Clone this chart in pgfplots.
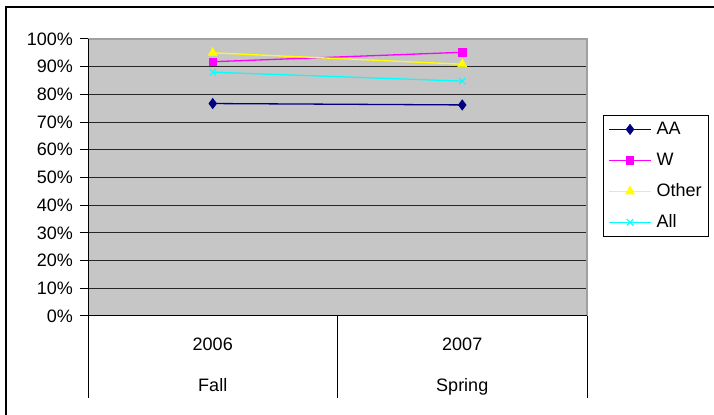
\documentclass[border=0pt]{standalone}
\usepackage{pgfplots}
\pgfplotsset{compat=1.18}
\usepackage{fontspec}
\setmainfont{Liberation Sans}
\definecolor{plotgray}{HTML}{C6C6C6}
\definecolor{bordergray}{HTML}{A0A0A0}
\definecolor{aa}{HTML}{000080}
\definecolor{ww}{HTML}{FF00FF}
\definecolor{oth}{HTML}{FFFF00}
\definecolor{allc}{HTML}{00FFFF}
\begin{document}
\fontsize{18bp}{21bp}\selectfont
\begin{tikzpicture}
\useasboundingbox (0bp,0bp) rectangle (714bp,415bp);
\draw[line width=1.5bp] (6bp,-5bp) -- (6bp,408bp) -- (720bp,408bp);
\begin{axis}[
  at={(88bp,99bp)}, anchor=south west,
  scale only axis, width=499bp, height=277bp,
  xmin=0, xmax=2, ymin=0, ymax=1,
  clip=false,
  font=\fontsize{18bp}{21bp}\selectfont,
  xtick={0.5,1.5},
  xticklabels={{2006\\[20bp]Fall},{2007\\[20bp]Spring}},
  x tick label style={align=center, yshift=-8bp},
  ytick={0,0.1,0.2,0.3,0.4,0.5,0.6,0.7,0.8,0.9,1},
  yticklabels={0\%,10\%,20\%,30\%,40\%,50\%,60\%,70\%,80\%,90\%,100\%},
  y tick label style={xshift=-1bp},
  tick pos=left, tick align=outside, major tick length=8bp,
  xtick style={draw=none},
  ytick style={black, line width=1bp},
  ymajorgrids, grid style={black!85, line width=1bp},
  axis line style={draw=none},
  axis background/.style={fill=plotgray},
  legend style={at={(1.032,0.7256)}, anchor=north west, draw=black, line width=0.8bp,
    fill=white, inner sep=5bp, row sep=13bp, column sep=3bp,
    nodes={inner sep=2bp, text height=12bp, text depth=2bp},
    font=\fontsize{18bp}{21bp}\selectfont},
  legend cell align=left,
  legend image code/.code={%
    \draw[mark repeat=2,mark phase=2,line width=1.3bp,#1] plot coordinates {(0bp,0bp) (21bp,0bp) (42bp,0bp)};},
]
\addplot[aa, line width=1.3bp, mark=diamond*, mark size=5bp, mark options={fill=aa, solid, line width=0.8bp}] coordinates {(0.5,0.767) (1.5,0.762)};
\addlegendentry{AA}
\addplot[ww, line width=1.3bp, mark=square*, mark size=3.8bp, mark options={fill=ww, solid, line width=0.8bp}] coordinates {(0.5,0.918) (1.5,0.952)};
\addlegendentry{W}
\addplot[oth, line width=1.3bp, mark=triangle*, mark size=5bp, mark options={fill=oth, solid, line width=0.8bp}] coordinates {(0.5,0.950) (1.5,0.909)};
\addlegendentry{Other\hspace{11bp}}
\addplot[allc, line width=1.3bp, mark=x, mark size=4.5bp, mark options={solid, line width=1bp}] coordinates {(0.5,0.880) (1.5,0.848)};
\addlegendentry{All}
\draw[bordergray, line width=1.5bp] (rel axis cs:0,1) -- (rel axis cs:1,1) -- (rel axis cs:1,0);
\draw[black, line width=1bp] (rel axis cs:0,1) -- (rel axis cs:0,0) -- (rel axis cs:1,0);
\draw[black, line width=1bp] (axis cs:0,0) -- ++(0bp,-82bp);
\draw[black, line width=1bp] (axis cs:1,0) -- ++(0bp,-82bp);
\draw[black, line width=1bp] (axis cs:2,0) -- ++(0bp,-82bp);
\end{axis}
\end{tikzpicture}
\end{document}
